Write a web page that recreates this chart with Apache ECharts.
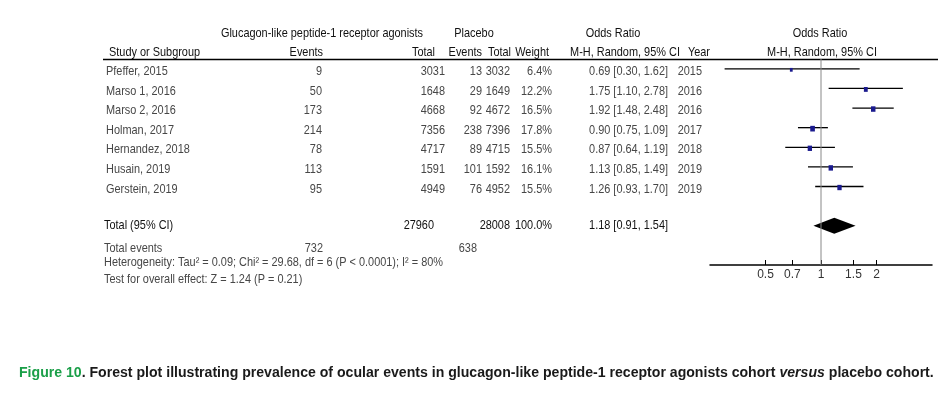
<!DOCTYPE html>
<html>
<head>
<meta charset="utf-8">
<script src="https://cdn.jsdelivr.net/npm/echarts@6/dist/echarts.min.js"></script>
<style>
html, body { margin: 0; padding: 0; background: #fff; }
#main { width: 946px; height: 398px; }
</style>
</head>
<body>
<div id="main"></div>
<script>
// 연구별 데이터
let studies = ['Pfeffer, 2015', 'Marso 1, 2016', 'Marso 2, 2016', 'Holman, 2017', 'Hernandez, 2018', 'Husain, 2019', 'Gerstein, 2019'];
let glpEvents = [9, 50, 173, 214, 78, 113, 95];
let glpTotal = [3031, 1648, 4668, 7356, 4717, 1591, 4949];
let pboEvents = [13, 29, 92, 238, 89, 101, 76];
let pboTotal = [3032, 1649, 4672, 7396, 4715, 1592, 4952];
let weights = [6.4, 12.2, 16.5, 17.8, 15.5, 16.1, 15.5];
let orVal = [0.69, 1.75, 1.92, 0.90, 0.87, 1.13, 1.26];
let orLow = [0.30, 1.10, 1.48, 0.75, 0.64, 0.85, 0.93];
let orHigh = [1.62, 2.78, 2.48, 1.09, 1.19, 1.49, 1.70];
let years = [2015, 2016, 2016, 2017, 2018, 2019, 2019];

// 합계
let totalGlp = 27960;
let totalPbo = 28008;
let totalEventsGlp = 732;
let totalEventsPbo = 638;
let totalOR = [1.18, 0.91, 1.54];   // 추정치, 하한, 상한
let tickVals = [0.5, 0.7, 1, 1.5, 2];

let tableFont = '"Liberation Sans", Arial, sans-serif';
let textCol = '#474747';
let headCol = '#111';
let squeeze = 0.84;   // 좁은 글꼴 흉내

var myChart = echarts.init(document.getElementById('main'));

var option = {
	animation: false,
	grid: { left: 710, width: 222, top: 59, height: 206 },
	xAxis: {
		type: 'log',
		logBase: 10,
		min: 0.25,
		max: 4,
		axisLine: { onZero: false, lineStyle: { color: '#000', width: 1.5 } },
		axisTick: { inside: true, length: 5, customValues: tickVals, lineStyle: { color: '#000' } },
		axisLabel: {
			customValues: tickVals,
			formatter: function (v) { return String(Math.round(v * 10) / 10); },
			color: '#333', fontSize: 12, fontFamily: tableFont, margin: 4
		},
		splitLine: { show: false },
		minorTick: { show: false }
	},
	yAxis: { type: 'value', inverse: true, min: -0.5, max: 10, show: false },
	series: [
		{
			// OR = 1 기준선
			type: 'line',
			data: [[1, -0.5], [1, 10]],
			symbol: 'none',
			lineStyle: { color: '#888', width: 1 },
			silent: true
		},
		{
			// 개별 연구 신뢰구간과 가중치 사각형
			type: 'custom',
			data: studies.map(function (s, i) { return [orLow[i], orHigh[i], orVal[i], i, weights[i]]; }),
			encode: { x: [0, 1, 2], y: 3 },
			renderItem: function (params, api) {
				let lo = api.coord([api.value(0), api.value(3)]);
				let hi = api.coord([api.value(1), api.value(3)]);
				let c = api.coord([api.value(2), api.value(3)]);
				let s = Math.sqrt(api.value(4)) * 1.1;
				return {
					type: 'group',
					children: [
						{ type: 'line', shape: { x1: lo[0], y1: lo[1], x2: hi[0], y2: hi[1] }, style: { stroke: '#000', lineWidth: 1.3 } },
						{ type: 'rect', shape: { x: c[0] - s / 2, y: c[1] - s / 2 + 0.5, width: s, height: s + 1 }, style: { fill: '#1a1a8e' } }
					]
				};
			}
		},
		{
			// 전체 효과 다이아몬드
			type: 'custom',
			data: [[totalOR[1], totalOR[2], totalOR[0], 8]],
			encode: { x: [0, 1, 2], y: 3 },
			renderItem: function (params, api) {
				let lo = api.coord([api.value(0), api.value(3)]);
				let hi = api.coord([api.value(1), api.value(3)]);
				let c = api.coord([api.value(2), api.value(3)]);
				return {
					type: 'polygon',
					shape: { points: [[lo[0], lo[1]], [c[0], c[1] - 8], [hi[0], hi[1]], [c[0], c[1] + 8]] },
					style: { fill: '#000' }
				};
			}
		}
	]
};
myChart.setOption(option);

// 표 텍스트 출력 (가로로 살짝 눌러서 좁은 글꼴처럼)
function txt(text, x, y, align, color, size) {
	return {
		type: 'text', silent: true,
		x: x, y: y, scaleX: squeeze,
		style: {
			text: text, x: 0, y: 0, align: align || 'left', verticalAlign: 'middle',
			fill: color || textCol, fontSize: size || 13, fontFamily: tableFont
		}
	};
}

let els = [];
// 헤더
els.push(txt('Glucagon-like peptide-1 receptor agonists', 322, 33, 'center', headCol));
els.push(txt('Placebo', 474, 33, 'center', headCol));
els.push(txt('Odds Ratio', 613, 33, 'center', headCol));
els.push(txt('Odds Ratio', 820, 33, 'center', headCol));
els.push(txt('Study or Subgroup', 109, 52, 'left', headCol));
els.push(txt('Events', 323, 52, 'right', headCol));
els.push(txt('Total', 435, 52, 'right', headCol));
els.push(txt('Events', 482, 52, 'right', headCol));
els.push(txt('Total', 511, 52, 'right', headCol));
els.push(txt('Weight', 549, 52, 'right', headCol));
els.push(txt('M-H, Random, 95% CI', 625, 52, 'center', headCol));
els.push(txt('Year', 710, 52, 'right', headCol));
els.push(txt('M-H, Random, 95% CI', 822, 52, 'center', headCol));
els.push({ type: 'line', silent: true, shape: { x1: 103, y1: 59.5, x2: 938, y2: 59.5 }, style: { stroke: '#000', lineWidth: 1.5 } });

for (let i = 0; i < studies.length; i++) {
	let y = myChart.convertToPixel({ yAxisIndex: 0 }, i) + 2.5;
	els.push(txt(studies[i], 106, y, 'left'));
	els.push(txt(String(glpEvents[i]), 322, y, 'right'));
	els.push(txt(String(glpTotal[i]), 445, y, 'right'));
	els.push(txt(String(pboEvents[i]), 482, y, 'right'));
	els.push(txt(String(pboTotal[i]), 510, y, 'right'));
	els.push(txt(weights[i].toFixed(1) + '%', 552, y, 'right'));
	els.push(txt(orVal[i].toFixed(2) + ' [' + orLow[i].toFixed(2) + ', ' + orHigh[i].toFixed(2) + ']', 668, y, 'right'));
	els.push(txt(String(years[i]), 702, y, 'right'));
}

let ty = myChart.convertToPixel({ yAxisIndex: 0 }, 8);
els.push(txt('Total (95% CI)', 104, ty, 'left', headCol));
els.push(txt(String(totalGlp), 434, ty, 'right', headCol));
els.push(txt(String(totalPbo), 510, ty, 'right', headCol));
els.push(txt('100.0%', 552, ty, 'right', headCol));
els.push(txt(totalOR[0].toFixed(2) + ' [' + totalOR[1].toFixed(2) + ', ' + totalOR[2].toFixed(2) + ']', 668, ty, 'right', headCol));
els.push(txt('Total events', 104, 248, 'left'));
els.push(txt(String(totalEventsGlp), 323, 248, 'right'));
els.push(txt(String(totalEventsPbo), 477, 248, 'right'));
els.push(txt('Heterogeneity: Tau² = 0.09; Chi² = 29.68, df = 6 (P < 0.0001); I² = 80%', 104, 262, 'left'));
els.push(txt('Test for overall effect: Z = 1.24 (P = 0.21)', 104, 279, 'left'));

// 그림 설명
els.push({
	type: 'text', silent: true,
	style: {
		x: 19, y: 373, verticalAlign: 'middle',
		text: '{g|Figure 10}{b|. Forest plot illustrating prevalence of ocular events in glucagon-like peptide-1 receptor agonists cohort }{i|versus}{b| placebo cohort.}',
		rich: {
			g: { fill: '#1a9f48', fontWeight: 'bold', fontSize: 14.1, fontFamily: tableFont },
			b: { fill: '#1a1a1a', fontWeight: 'bold', fontSize: 14.1, fontFamily: tableFont },
			i: { fill: '#1a1a1a', fontWeight: 'bold', fontStyle: 'italic', fontSize: 14.1, fontFamily: tableFont }
		}
	}
});

myChart.setOption({ graphic: { elements: els } });
</script>
</body>
</html>
